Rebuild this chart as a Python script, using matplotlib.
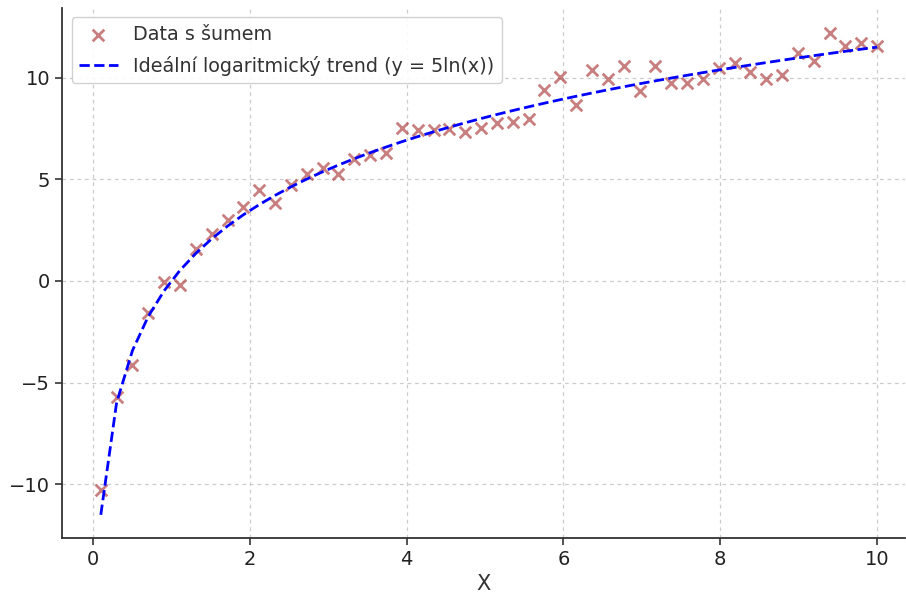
import numpy as np
import matplotlib
matplotlib.use("Agg")
import matplotlib.pyplot as plt

# 50 evenly spaced sample positions from 0.1 to 10
x_values = [
    0.100, 0.302, 0.504, 0.706, 0.908, 1.110, 1.312, 1.514, 1.716, 1.918,
    2.120, 2.322, 2.524, 2.727, 2.929, 3.131, 3.333, 3.535, 3.737, 3.939,
    4.141, 4.343, 4.545, 4.747, 4.949, 5.151, 5.353, 5.556, 5.758, 5.960,
    6.162, 6.364, 6.566, 6.768, 6.970, 7.172, 7.374, 7.576, 7.778, 7.980,
    8.182, 8.384, 8.586, 8.788, 8.990, 9.192, 9.394, 9.596, 9.798, 10.000,
]

# measured values with noise
y_noisy = [
    -10.30, -5.71, -4.14, -1.58, -0.05, -0.20, 1.58, 2.32, 3.00, 3.65,
    4.48, 3.84, 4.73, 5.27, 5.57, 5.27, 6.00, 6.20, 6.30, 7.54,
    7.44, 7.44, 7.49, 7.34, 7.54, 7.78, 7.83, 7.98, 9.41, 10.05,
    8.67, 10.39, 9.95, 10.59, 9.36, 10.59, 9.75, 9.75, 9.95, 10.49,
    10.74, 10.30, 9.95, 10.15, 11.23, 10.84, 12.22, 11.58, 11.72, 11.58,
]

x = np.array(x_values)
# ideal trend y = 5 ln(x)
y_ideal = 5 * np.log(x)

fig = plt.figure(figsize=(9.06, 5.97), dpi=100)
ax = fig.add_axes([0.0684, 0.099, 0.93, 0.888])

ax.scatter(x, y_noisy, marker="x", color="brown", alpha=0.6, s=70,
           linewidths=2, label="Data s šumem", zorder=3)
ax.plot(x, y_ideal, "b--", linewidth=2,
        label="Ideální logaritmický trend (y = 5ln(x))", zorder=4)

ax.set_xlim(-0.395, 10.35)
ax.set_ylim(-12.65, 13.45)
ax.set_xticks([0, 2, 4, 6, 8, 10])
ax.set_yticks([-10, -5, 0, 5, 10])
ax.set_xlabel("X", fontsize=15, color="#333333")

ax.grid(True, linestyle=(0, (3, 3)), color="#cccccc", linewidth=0.9)
ax.set_axisbelow(True)
for side in ("top", "right"):
    ax.spines[side].set_visible(False)
for side in ("left", "bottom"):
    ax.spines[side].set_linewidth(1.3)
    ax.spines[side].set_color("#333333")
ax.tick_params(labelsize=14, length=5, width=1.2, color="#333333",
               labelcolor="#222222")

leg = ax.legend(loc="upper left", fontsize=13.8, framealpha=0.9,
                labelspacing=0.6, bbox_to_anchor=(0.0, 1.0))
for txt in leg.get_texts():
    txt.set_color("#333333")

fig.savefig("out.png", dpi=100)
